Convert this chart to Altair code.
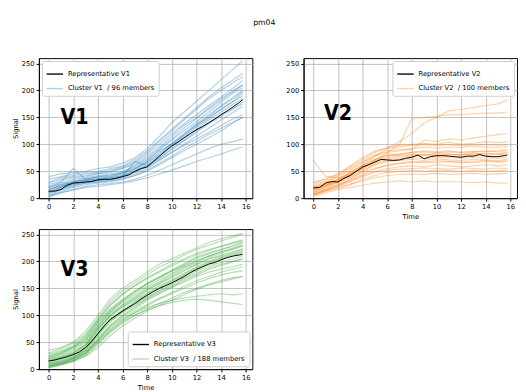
import altair as alt
import pandas as pd

T_MEM = [0, 1, 2, 3, 4, 5, 6, 7, 8, 9, 10, 11, 12, 13, 14, 15, 15.75]
T_REP = [0, 0.5, 1, 1.5, 2, 2.5, 3, 3.5, 4, 4.5, 5, 5.5, 6, 6.5, 7, 7.5, 8,
         8.5, 9, 9.5, 10, 10.5, 11, 11.5, 12, 12.5, 13, 13.5, 14, 14.5, 15, 15.5, 15.75]

TITLE = "pm04"
NAMES = ["V1", "V2", "V3"]
COUNTS = [96, 100, 188]
COLORS = ["#1f77b4", "#ff7f0e", "#2ca02c"]

V1_REP = [13, 13, 16, 24, 28, 29, 30, 31, 34, 35, 35, 37, 40, 43, 50, 55, 58,
          68, 78, 88, 97, 104, 112, 120, 127, 133, 140, 147, 155, 162, 170, 178, 183]
V2_REP = [19, 20, 28, 31, 30, 37, 42, 50, 58, 62, 67, 72, 71, 70, 71, 74, 76,
          80, 73, 77, 79, 79, 78, 77, 76, 78, 78, 81, 78, 77, 77, 79, 80]
V3_REP = [15, 17, 20, 23, 27, 32, 40, 52, 66, 80, 92, 100, 108, 115, 122, 130, 137,
          144, 150, 155, 160, 166, 172, 179, 185, 190, 195, 198, 203, 207, 210, 212, 213]

V1_MEMBERS = [
    [5, 15, 22, 28, 30, 33, 38, 45, 55, 70, 85, 100, 115, 130, 145, 160, 170],
    [12, 20, 28, 32, 35, 38, 42, 50, 62, 78, 95, 112, 128, 145, 160, 175, 185],
    [20, 28, 35, 38, 42, 45, 50, 58, 72, 90, 108, 125, 142, 160, 178, 195, 205],
    [30, 38, 42, 45, 48, 52, 58, 68, 85, 105, 125, 145, 165, 185, 200, 215, 225],
    [2, 10, 15, 20, 22, 25, 28, 32, 38, 45, 52, 60, 68, 75, 82, 90, 95],
    [15, 25, 30, 35, 38, 40, 45, 55, 70, 88, 100, 118, 135, 150, 165, 180, 190],
    [25, 32, 38, 40, 45, 48, 55, 62, 78, 95, 115, 135, 150, 168, 185, 200, 210],
    [10, 18, 25, 30, 32, 35, 40, 48, 58, 72, 85, 98, 110, 122, 135, 148, 155],
    [40, 45, 48, 50, 55, 58, 65, 75, 92, 115, 140, 160, 180, 200, 220, 240, 255],
    [18, 22, 30, 33, 36, 38, 42, 52, 65, 80, 98, 115, 132, 148, 165, 180, 195],
    [5, 12, 20, 25, 28, 30, 35, 42, 50, 62, 75, 88, 100, 112, 125, 140, 150],
    [22, 30, 55, 35, 40, 42, 48, 60, 75, 92, 110, 130, 148, 165, 182, 198, 210],
    [12, 22, 28, 30, 34, 36, 40, 68, 60, 75, 92, 108, 125, 140, 155, 168, 178],
    [28, 35, 40, 42, 46, 50, 56, 66, 82, 100, 120, 138, 155, 172, 188, 205, 218],
    [8, 16, 24, 28, 30, 32, 36, 42, 52, 65, 78, 92, 105, 118, 130, 142, 150],
    [15, 24, 30, 34, 36, 40, 46, 54, 68, 85, 102, 120, 138, 155, 172, 188, 200],
    [3, 10, 16, 22, 25, 27, 30, 35, 42, 52, 62, 72, 82, 92, 100, 105, 110],
    [35, 40, 45, 48, 50, 55, 60, 72, 88, 108, 128, 148, 168, 188, 205, 220, 232],
    [20, 26, 32, 36, 40, 43, 47, 55, 66, 82, 100, 118, 136, 152, 170, 185, 198],
    [10, 20, 26, 30, 33, 36, 41, 48, 60, 74, 90, 106, 122, 138, 152, 166, 175],
]

V2_MEMBERS = [
    [5, 15, 22, 35, 50, 62, 70, 72, 75, 74, 76, 75, 74, 76, 75, 74, 76],
    [20, 28, 35, 48, 60, 72, 80, 82, 85, 88, 86, 88, 85, 87, 86, 88, 90],
    [10, 18, 25, 32, 42, 50, 55, 58, 60, 58, 62, 60, 58, 60, 62, 60, 62],
    [30, 35, 45, 58, 72, 85, 95, 98, 100, 102, 100, 104, 100, 102, 105, 103, 105],
    [15, 22, 30, 42, 55, 70, 85, 100, 148, 150, 152, 155, 155, 157, 158, 158, 160],
    [20, 25, 35, 48, 62, 78, 92, 105, 120, 140, 150, 162, 165, 168, 172, 175, 182],
    [8, 14, 20, 26, 32, 38, 42, 44, 45, 44, 46, 44, 45, 46, 44, 45, 46],
    [3, 10, 16, 20, 24, 28, 30, 32, 30, 32, 30, 31, 30, 29, 30, 28, 28],
    [25, 32, 42, 55, 68, 80, 88, 90, 92, 95, 93, 95, 94, 96, 95, 94, 96],
    [12, 22, 30, 40, 52, 62, 68, 70, 72, 70, 73, 71, 70, 72, 71, 70, 72],
    [70, 40, 38, 45, 55, 65, 72, 75, 78, 80, 78, 80, 82, 80, 79, 81, 80],
    [18, 25, 32, 45, 58, 68, 75, 78, 80, 82, 80, 82, 80, 82, 83, 82, 84],
    [6, 15, 22, 30, 40, 48, 52, 54, 55, 56, 55, 54, 56, 55, 54, 56, 55],
    [22, 30, 40, 52, 66, 78, 85, 88, 90, 108, 105, 110, 108, 112, 115, 118, 120],
    [10, 20, 28, 38, 48, 56, 60, 64, 66, 68, 66, 68, 67, 66, 68, 67, 68],
    [14, 24, 32, 44, 56, 70, 78, 80, 82, 80, 84, 82, 80, 84, 82, 83, 85],
    [5, 12, 18, 25, 35, 42, 48, 50, 52, 50, 52, 51, 50, 52, 50, 51, 52],
    [28, 36, 45, 60, 75, 88, 92, 95, 98, 100, 98, 100, 97, 99, 100, 98, 100],
    [16, 24, 34, 46, 60, 72, 80, 82, 85, 86, 84, 86, 85, 86, 88, 86, 88],
    [8, 16, 25, 34, 44, 54, 62, 65, 68, 66, 70, 68, 66, 68, 70, 68, 70],
]

V3_MEMBERS = [
    [5, 10, 18, 30, 55, 80, 98, 112, 128, 140, 152, 165, 175, 185, 192, 200, 205],
    [15, 22, 30, 45, 75, 100, 118, 132, 148, 160, 172, 185, 195, 205, 212, 218, 222],
    [25, 32, 42, 60, 90, 118, 138, 155, 170, 182, 195, 205, 215, 222, 228, 235, 240],
    [2, 8, 15, 25, 45, 68, 85, 100, 112, 122, 132, 142, 150, 158, 165, 170, 172],
    [10, 15, 22, 35, 62, 88, 105, 118, 132, 145, 155, 168, 178, 188, 195, 200, 205],
    [30, 38, 48, 65, 95, 125, 145, 160, 175, 190, 200, 212, 222, 230, 238, 245, 250],
    [8, 12, 20, 32, 52, 75, 92, 105, 115, 122, 128, 132, 135, 138, 140, 138, 140],
    [5, 10, 16, 28, 48, 70, 88, 100, 110, 118, 124, 128, 130, 128, 125, 122, 120],
    [20, 28, 38, 52, 82, 108, 126, 142, 158, 170, 182, 192, 202, 210, 218, 225, 230],
    [12, 18, 26, 40, 68, 94, 110, 125, 140, 152, 164, 176, 188, 198, 206, 212, 218],
    [35, 40, 50, 70, 100, 130, 150, 165, 180, 195, 205, 215, 225, 235, 242, 248, 252],
    [3, 8, 14, 24, 40, 62, 80, 95, 108, 118, 128, 138, 148, 156, 162, 168, 172],
    [18, 24, 32, 46, 78, 104, 120, 135, 150, 162, 175, 188, 198, 208, 215, 222, 228],
    [6, 12, 20, 34, 58, 82, 100, 115, 130, 142, 152, 162, 172, 180, 186, 190, 195],
    [22, 30, 40, 56, 88, 112, 130, 145, 160, 172, 184, 196, 208, 216, 222, 230, 236],
    [14, 20, 28, 42, 72, 98, 115, 128, 142, 155, 166, 178, 190, 200, 208, 214, 220],
    [9, 14, 22, 36, 64, 90, 106, 120, 134, 146, 158, 170, 182, 192, 198, 205, 210],
    [28, 34, 44, 62, 92, 120, 140, 155, 168, 180, 192, 202, 212, 220, 228, 234, 238],
    [4, 9, 16, 28, 50, 72, 90, 104, 118, 130, 140, 150, 160, 168, 175, 180, 182],
    [16, 22, 30, 44, 74, 100, 116, 130, 146, 158, 170, 182, 194, 204, 210, 216, 224],
    [11, 16, 24, 38, 66, 92, 108, 122, 138, 150, 162, 174, 186, 196, 204, 210, 216],
    [24, 30, 40, 55, 85, 110, 128, 144, 158, 170, 182, 194, 206, 214, 222, 228, 234],
    [7, 12, 19, 30, 54, 78, 95, 108, 120, 132, 142, 154, 164, 172, 180, 186, 190],
    [19, 26, 35, 50, 80, 106, 124, 138, 154, 166, 178, 190, 200, 210, 218, 224, 230],
]

LABEL_POS = [(2.1, 151), (2.0, 157), (2.1, 186)]
LEGEND_ORIENT = ["top-left", "top-right", "bottom-right"]
X_TICKS = [0, 2, 4, 6, 8, 10, 12, 14, 16]
Y_TICKS = [0, 50, 100, 150, 200, 250]

W, H = 221, 145


def panel(idx, rep, members, show_xtitle, show_ytitle):
    name = NAMES[idx]
    rep_lbl = f"Representative {name}"
    cl_lbl = f"Cluster {name}\u00a0\u00a0/ {COUNTS[idx]} members"
    mem_rows = []
    for i, m in enumerate(members):
        for t, v in zip(T_MEM, m):
            mem_rows.append({"t": t, "v": v, "member": f"m{i}", "series": cl_lbl})
    rep_rows = [{"t": t, "v": v, "member": "rep", "series": rep_lbl} for t, v in zip(T_REP, rep)]
    mem_df = pd.DataFrame(mem_rows)
    rep_df = pd.DataFrame(rep_rows)

    leg = dict(title=None, orient=LEGEND_ORIENT[idx], labelFontSize=7, labelFont="DejaVu Sans",
               symbolType="stroke", symbolSize=290, symbolStrokeWidth=1.4,
               fillColor="white", strokeColor="#cccccc", cornerRadius=2, padding=4,
               offset=3, rowPadding=2, labelLimit=300)
    dom = [rep_lbl, cl_lbl]
    color = alt.Color("series:N", scale=alt.Scale(domain=dom, range=["black", COLORS[idx]]),
                      legend=alt.Legend(**leg))
    opacity = alt.Opacity("series:N", scale=alt.Scale(domain=dom, range=[1, 0.35]),
                          legend=alt.Legend(**leg))
    x = alt.X("t:Q", scale=alt.Scale(domain=[-0.79, 16.54], nice=False, zero=False),
              axis=alt.Axis(values=X_TICKS, title="Time" if show_xtitle else None,
                            labelFlush=False, labelOverlap=False))
    y = alt.Y("v:Q", scale=alt.Scale(domain=[0, 260], nice=False),
              axis=alt.Axis(values=Y_TICKS, title="Signal" if show_ytitle else None,
                            labelOverlap=False))

    mem = alt.Chart(mem_df).mark_line(strokeWidth=1.2, clip=True).encode(
        x=x, y=y, color=color, opacity=opacity, detail="member:N")
    rp = alt.Chart(rep_df).mark_line(strokeWidth=1.0, clip=True).encode(
        x=x, y=y, color=color, opacity=opacity)
    lab_df = pd.DataFrame([{"t": LABEL_POS[idx][0], "v": LABEL_POS[idx][1], "txt": name}])
    txt = alt.Chart(lab_df).mark_text(font="DejaVu Sans Condensed", fontWeight="bold", fontSize=22,
                                      baseline="middle", align="center", color="black").encode(
        x=x, y=y, text="txt:N")
    return alt.layer(mem, rp, txt).properties(width=W, height=H)


p1 = panel(0, V1_REP, V1_MEMBERS, False, True)
p2 = panel(1, V2_REP, V2_MEMBERS, True, False)
p3 = panel(2, V3_REP, V3_MEMBERS, True, True)

row1 = alt.hconcat(p1, p2, spacing=33).resolve_scale(color="independent", opacity="independent")
chart = alt.vconcat(row1, p3, spacing=8).resolve_scale(color="independent", opacity="independent")

chart = chart.properties(
    title=alt.Title(TITLE, fontSize=8, fontWeight="normal", font="DejaVu Sans", anchor="middle", offset=32),
    padding={"left": 3, "top": 4, "right": 0, "bottom": 0},
).configure_view(stroke="black", strokeWidth=1).configure_axis(
    domainColor="black", tickColor="black", labelColor="black", titleColor="black",
    labelFontSize=7, titleFontSize=7, titleFontWeight="normal", labelFont="DejaVu Sans",
    titleFont="DejaVu Sans", gridColor="#b0b0b0", gridWidth=0.8, tickSize=3,
    labelPadding=2, titlePadding=3)

chart.save("out.html", embed_options={"renderer": "svg", "actions": False})
